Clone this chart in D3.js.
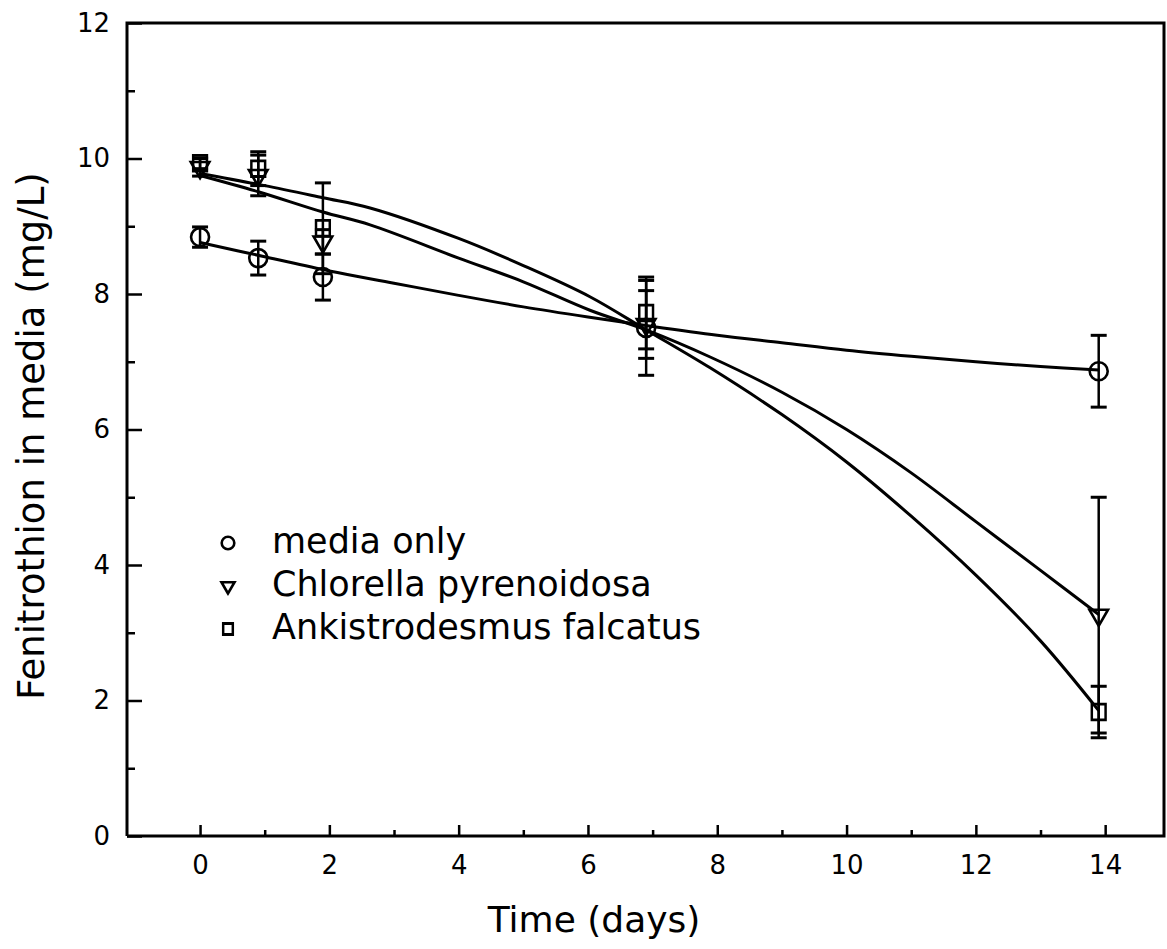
<!DOCTYPE html>
<html>
<head>
<meta charset="utf-8">
<script src="https://cdn.jsdelivr.net/npm/d3@7"></script>
<style>
  body { margin: 0; background: #fff; }
  svg { display: block; }
  text { font-family: "DejaVu Sans", sans-serif; fill: #000; }
</style>
</head>
<body>
<svg id="chart" width="1167" height="949"></svg>
<script>
// Sampling times (days)
const days = [0, 0.9, 1.9, 6.9, 13.9];

// Measured concentrations (mg/L) and error half-widths
const mediaOnly      = [8.84, 8.53, 8.25, 7.50, 6.86];
const mediaOnlyErr   = [0.15, 0.25, 0.34, 0.70, 0.53];
const chlorella      = [9.87, 9.75, 8.77, 7.55, 3.26];
const chlorellaErr   = [0.13, 0.30, 0.18, 0.50, 1.74];
const ankistro       = [9.93, 9.85, 8.97, 7.72, 1.83];
const ankistroErr    = [0.08, 0.25, 0.67, 0.53, 0.38];

// Fitted curves (day, mg/L)
const mediaFitDays   = [0, 1, 2, 3, 4, 5, 6, 7, 8, 9, 10, 11, 12, 13, 13.9];
const mediaFit       = [8.76, 8.55, 8.34, 8.16, 7.98, 7.81, 7.66, 7.52, 7.39, 7.28, 7.17, 7.08, 7.00, 6.93, 6.88];
const chlorFitDays   = [0, 0.9, 1.9, 2.63, 4, 5, 6.03, 6.9, 7.89, 9, 10, 11, 12, 13, 13.9];
const chlorFit       = [9.75, 9.51, 9.21, 9.02, 8.53, 8.18, 7.76, 7.47, 7.07, 6.55, 6.00, 5.36, 4.64, 3.92, 3.27];
const ankiFitDays    = [0, 1, 1.9, 2.63, 4, 5, 6.03, 6.9, 7.89, 9, 10, 11, 12, 13, 13.9];
const ankiFit        = [9.78, 9.60, 9.42, 9.27, 8.82, 8.42, 7.96, 7.47, 6.91, 6.22, 5.52, 4.72, 3.85, 2.88, 1.85];

// Axis ticks
const xMajorTicks = [0, 2, 4, 6, 8, 10, 12, 14];
const xMinorTicks = [1, 3, 5, 7, 9, 11, 13];
const yMajorTicks = [0, 2, 4, 6, 8, 10, 12];
const yMinorTicks = [1, 3, 5, 7, 9, 11];

const legendLabels = ["media only", "Chlorella pyrenoidosa", "Ankistrodesmus falcatus"];

const svg = d3.select("#chart");
const plot = { left: 127, top: 23, right: 1164, bottom: 836 };

const x = d3.scaleLinear().domain([-1.13, 14.91]).range([plot.left, plot.right]);
const y = d3.scaleLinear().domain([0, 12]).range([plot.bottom, plot.top]);

// Frame
svg.append("path")
  .attr("d", `M${plot.left},${plot.bottom}V${plot.top}H${plot.right}V${plot.bottom}H${plot.left}`)
  .attr("fill", "none").attr("stroke", "#000").attr("stroke-width", 3);

// Y axis
const yAx = svg.append("g").attr("transform", `translate(${plot.left},0)`)
  .call(d3.axisLeft(y).tickValues(yMajorTicks).tickSize(-15).tickSizeOuter(0).tickPadding(17).tickFormat(d3.format("d")));
yAx.select(".domain").remove();
yAx.selectAll("line").attr("stroke", "#000").attr("stroke-width", 2.5);
yAx.selectAll("text").attr("font-size", 26).attr("font-family", "DejaVu Sans");

const yMin = svg.append("g").attr("transform", `translate(${plot.left},0)`)
  .call(d3.axisLeft(y).tickValues(yMinorTicks).tickSize(-8).tickFormat(""));
yMin.select(".domain").remove();
yMin.selectAll("line").attr("stroke", "#000").attr("stroke-width", 2.5);

// X axis
const xAx = svg.append("g").attr("transform", `translate(0,${plot.bottom})`)
  .call(d3.axisBottom(x).tickValues(xMajorTicks).tickSize(-11).tickSizeOuter(0).tickPadding(20).tickFormat(d3.format("d")));
xAx.select(".domain").remove();
xAx.selectAll("line").attr("stroke", "#000").attr("stroke-width", 2.5);
xAx.selectAll("text").attr("font-size", 26).attr("font-family", "DejaVu Sans");

const xMin = svg.append("g").attr("transform", `translate(0,${plot.bottom})`)
  .call(d3.axisBottom(x).tickValues(xMinorTicks).tickSize(-6).tickFormat(""));
xMin.select(".domain").remove();
xMin.selectAll("line").attr("stroke", "#000").attr("stroke-width", 2.5);

// Axis titles
svg.append("text")
  .attr("x", 594).attr("y", 932)
  .attr("text-anchor", "middle").attr("font-size", 36)
  .text("Time (days)");

svg.append("text")
  .attr("transform", "translate(44,436) rotate(-90)")
  .attr("text-anchor", "middle").attr("font-size", 37)
  .text("Fenitrothion in media (mg/L)");

// Fitted curves
const lineGen = d3.line().x(d => x(d[0])).y(d => y(d[1])).curve(d3.curveCatmullRom.alpha(0.5));
const fits = [
  d3.zip(mediaFitDays, mediaFit),
  d3.zip(chlorFitDays, chlorFit),
  d3.zip(ankiFitDays, ankiFit)
];
svg.append("g").selectAll("path").data(fits).join("path")
  .attr("d", lineGen)
  .attr("fill", "none").attr("stroke", "#000").attr("stroke-width", 3);

// Markers
const triDown = d3.symbol().type(d3.symbolTriangle);
const sq = d3.symbol().type(d3.symbolSquare);

function drawMarker(g, kind, cx, cy, scale) {
  if (kind === "circle") {
    g.append("circle").attr("cx", cx).attr("cy", cy).attr("r", 9 * scale)
      .attr("fill", "none").attr("stroke", "#000").attr("stroke-width", 2.6);
  } else if (kind === "triangle") {
    g.append("path").attr("d", triDown.size(150 * scale * scale)())
      .attr("transform", `translate(${cx},${cy}) rotate(180)`)
      .attr("fill", "none").attr("stroke", "#000").attr("stroke-width", 2.6);
  } else {
    g.append("path").attr("d", sq.size(210 * scale * scale)())
      .attr("transform", `translate(${cx},${cy}) scale(0.95,1.08)`)
      .attr("fill", "none").attr("stroke", "#000").attr("stroke-width", 2.6);
  }
}

const series = [
  { kind: "circle",   vals: mediaOnly, errs: mediaOnlyErr },
  { kind: "triangle", vals: chlorella, errs: chlorellaErr },
  { kind: "square",   vals: ankistro,  errs: ankistroErr }
];

const marks = svg.append("g");
series.forEach(s => {
  s.vals.forEach((v, i) => {
    const cx = x(days[i]);
    const hi = y(v + s.errs[i]), lo = y(v - s.errs[i]);
    marks.append("line").attr("x1", cx).attr("x2", cx).attr("y1", hi).attr("y2", lo)
      .attr("stroke", "#000").attr("stroke-width", 2.5);
    [hi, lo].forEach(yy => marks.append("line")
      .attr("x1", cx - 8).attr("x2", cx + 8).attr("y1", yy).attr("y2", yy)
      .attr("stroke", "#000").attr("stroke-width", 3));
    drawMarker(marks, s.kind, cx, y(v), 1);
  });
});

// Legend
const legend = svg.append("g");
legendLabels.forEach((lab, i) => {
  const by = 553 + i * 43;
  drawMarker(legend, series[i].kind, 228, by - 10, 0.7);
  legend.append("text").attr("x", 272).attr("y", by)
    .attr("font-size", 35).text(lab);
});
</script>
</body>
</html>
